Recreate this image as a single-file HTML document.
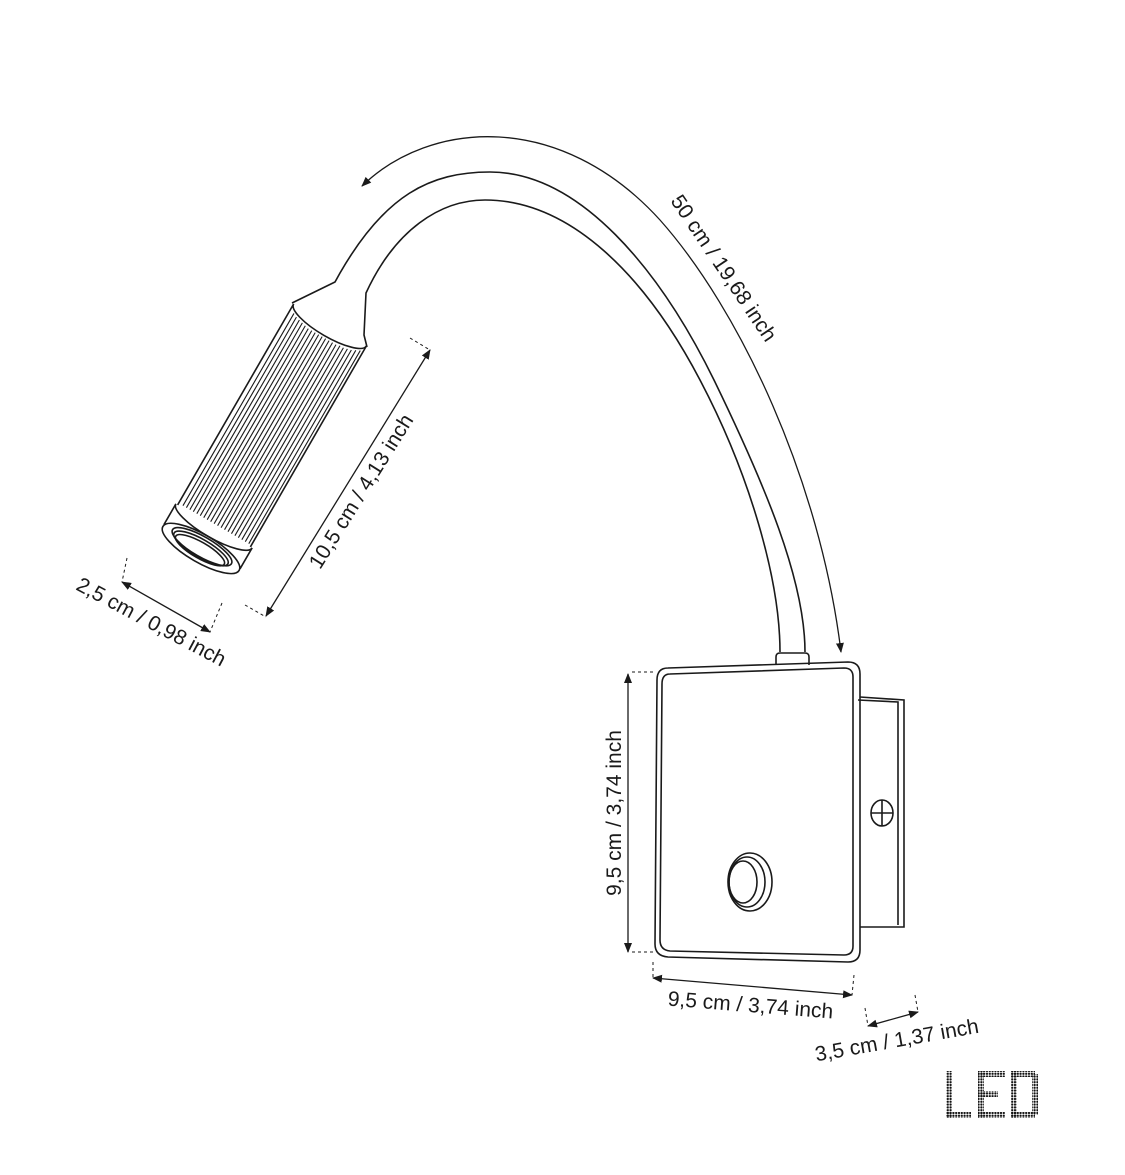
<!DOCTYPE html>
<html><head><meta charset="utf-8"><style>
html,body{margin:0;padding:0;background:#fff}
svg{display:block}
text{font-family:"Liberation Sans",sans-serif;font-size:21px;fill:#1a1a1a}
</style></head><body>
<svg width="1125" height="1175" viewBox="0 0 1125 1175" xmlns="http://www.w3.org/2000/svg">
<defs>
<marker id="ah" markerWidth="10" markerHeight="10" refX="9" refY="5" orient="auto-start-reverse" markerUnits="userSpaceOnUse">
<path d="M0,1 L10,5 L0,9 z" fill="#1a1a1a"/></marker>
<pattern id="dots" width="2.8" height="2.8" patternUnits="userSpaceOnUse"><circle cx="1.4" cy="1.4" r="1.15" fill="#111"/></pattern>
</defs>
<g fill="none" stroke="#1a1a1a" stroke-width="1.6">
<!-- gooseneck -->
<path d="M292,303 L335,282 L340,273 C385,195 430,172 490,172 C580,172 660,270 714,380 C765,485 805,580 805,652"/>
<path d="M367,347 L364,335 L366,293 C395,230 440,200 485,200 C570,200 645,275 700,380 C750,475 780,580 780,652"/>
<!-- arrow arc -->
<path d="M362,186 C430,120 560,110 660,220 C740,310 820,480 841,652" stroke-width="1.3" marker-start="url(#ah)" marker-end="url(#ah)"/>
<!-- lamp head -->
<g transform="translate(330,325) rotate(30)">
<path d="M-42,0 A42,12 0 0 0 42,0"/>
<path d="M-42,0 L-42,232 M42,0 L42,232"/>
<g stroke-width="1.1">
<path d="M-37,8V230M-33,10V230M-29,11V230M-25,12V230M-21,13V230M-17,14V230M-13,14V230M-9,14V230M-5,14V230M-1,14V230M3,14V230M7,14V230M11,14V230M15,14V230M19,13V230M23,13V230M27,12V230M31,11V230M35,9V230M39,7V230"/>
</g>
<path d="M-44,232 A44,12 0 0 0 44,232"/>
<path d="M-44,232 L-44,256 M44,232 L44,256"/>
<ellipse cx="0" cy="258" rx="44" ry="14"/>
<ellipse cx="0" cy="256" rx="34" ry="10"/>
<ellipse cx="0" cy="258" rx="31" ry="9"/>
<ellipse cx="0" cy="260" rx="28" ry="8"/>
</g>
<!-- box -->
<path d="M776,665 L776,657 Q776,653 780,653 L805,653 Q809,653 809,657 L809,665"/>
<path d="M668,668 L848,662 Q860,662 860,674 L860,950 Q860,962 848,962 L668,957 Q655,956 655,944 L657,680 Q657,668 668,668 Z"/>
<path d="M670,674 L844,668 Q853,668 853,677 L853,946 Q853,955 844,955 L670,951 Q660,950 660,940 L662,684 Q662,674 670,674 Z"/>
<path d="M860,697 L904,700 L904,927 L860,927"/>
<path d="M858,700 L898,702 L898,925"/>
<ellipse cx="882" cy="813" rx="11" ry="13"/>
<path d="M871,813 H893 M882,800 V826"/>
<ellipse cx="750" cy="882" rx="22" ry="29"/>
<ellipse cx="747" cy="882" rx="18" ry="25"/>
<ellipse cx="743" cy="882" rx="14" ry="21"/>
<!-- dimension lines -->
<g stroke-width="1.3">
<path d="M266,616 L430,350" marker-start="url(#ah)" marker-end="url(#ah)"/>
<path d="M122,582 L210,632" marker-start="url(#ah)" marker-end="url(#ah)"/>
<path d="M628,674 L628,952" marker-start="url(#ah)" marker-end="url(#ah)"/>
<path d="M653,978 L852,995" marker-start="url(#ah)" marker-end="url(#ah)"/>
<path d="M868,1026 L918,1012" marker-start="url(#ah)" marker-end="url(#ah)"/>
</g>
<g stroke-width="1" stroke-dasharray="3,3">
<path d="M410,338 L430,350"/><path d="M245,605 L266,617"/>
<path d="M127,558 L122,582"/><path d="M222,603 L210,632"/>
<path d="M632,672 L655,672"/><path d="M632,952 L655,952"/>
<path d="M653,962 L653,978"/><path d="M854,975 L852,995"/>
<path d="M865,1008 L868,1026"/><path d="M915,995 L918,1012"/>
</g>
</g>
<!-- labels -->
<text transform="translate(367,495) rotate(-58)" text-anchor="middle">10,5 cm / 4,13 inch</text>
<text transform="translate(148,628) rotate(28)" text-anchor="middle">2,5 cm / 0,98 inch</text>
<text transform="translate(718,272) rotate(56)" text-anchor="middle">50 cm / 19,68 inch</text>
<text transform="translate(621,813) rotate(-90)" text-anchor="middle">9,5 cm / 3,74 inch</text>
<text transform="translate(750,1012) rotate(4.5)" text-anchor="middle">9,5 cm / 3,74 inch</text>
<text transform="translate(898,1047) rotate(-10)" text-anchor="middle">3,5 cm / 1,37 inch</text>
<!-- LED dot matrix -->
<g fill="url(#dots)">
<rect x="946" y="1071" width="6" height="47"/><rect x="946" y="1112" width="25" height="6"/>
<rect x="978" y="1071" width="6" height="47"/><rect x="978" y="1071" width="27" height="6"/><rect x="978" y="1091" width="20" height="6"/><rect x="978" y="1112" width="27" height="6"/>
<rect x="1011" y="1071" width="6" height="47"/><rect x="1011" y="1071" width="24" height="6"/><rect x="1011" y="1112" width="24" height="6"/><rect x="1032" y="1074" width="6" height="41"/>
</g>
</svg>
</body></html>
